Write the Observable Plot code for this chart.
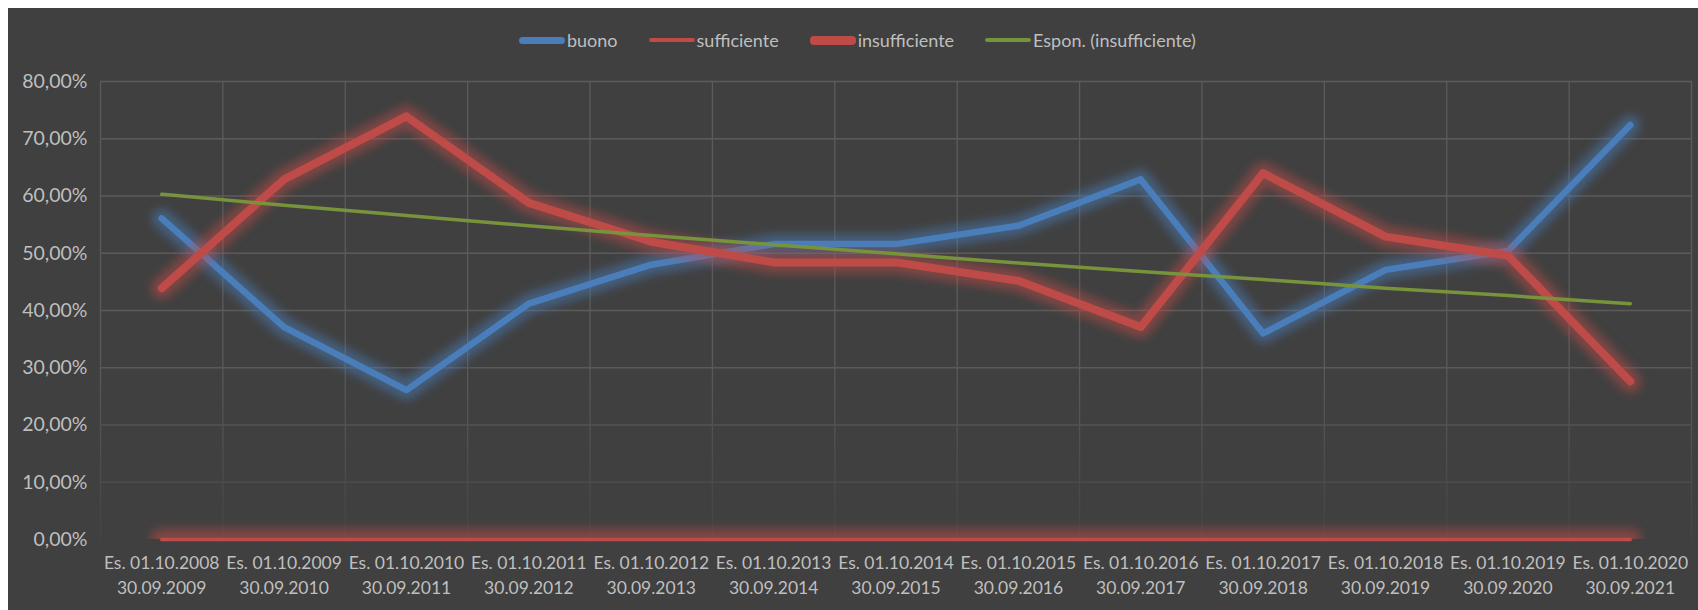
<!DOCTYPE html>
<html>
<head>
<meta charset="utf-8">
<script src="https://cdn.jsdelivr.net/npm/d3@7"></script>
<script src="https://cdn.jsdelivr.net/npm/@observablehq/plot@0.6"></script>
<style>
  html, body { margin: 0; padding: 0; background: #ffffff; }
  #chart { position: absolute; left: 8px; top: 8px; width: 1690px; height: 602px; background: #404040; overflow: hidden; font-family: Lato, sans-serif; }
  #legend { height: 56px; box-sizing: border-box; padding-top: 8px; padding-left: 511px; display: flex; align-items: center; color: #bfbfbf; font-size: 18px; line-height: 20px; }
  .item { display: flex; align-items: center; margin-right: 31px; }
  .sw { width: 46px; border-radius: 4px; margin-right: 2px; }
</style>
</head>
<body>
<div id="chart">
  <div id="legend"></div>
  <div id="plot"></div>
</div>
<script>
const periods = [
  "Es. 01.10.2008\n30.09.2009", "Es. 01.10.2009\n30.09.2010", "Es. 01.10.2010\n30.09.2011",
  "Es. 01.10.2011\n30.09.2012", "Es. 01.10.2012\n30.09.2013", "Es. 01.10.2013\n30.09.2014",
  "Es. 01.10.2014\n30.09.2015", "Es. 01.10.2015\n30.09.2016", "Es. 01.10.2016\n30.09.2017",
  "Es. 01.10.2017\n30.09.2018", "Es. 01.10.2018\n30.09.2019", "Es. 01.10.2019\n30.09.2020",
  "Es. 01.10.2020\n30.09.2021"
];
const buono         = [56.1, 37.1, 26.1, 41.2, 48.0, 51.6, 51.6, 54.8, 62.9, 36.0, 47.1, 50.4, 72.4];
const sufficiente   = [0, 0, 0, 0, 0, 0, 0, 0, 0, 0, 0, 0, 0];
const insufficiente = [43.9, 62.9, 73.9, 58.8, 52.0, 48.4, 48.4, 45.2, 37.1, 64.0, 52.9, 49.6, 27.6];
const trend         = [60.3, 58.4, 56.6, 54.8, 53.1, 51.5, 49.9, 48.3, 46.8, 45.4, 43.9, 42.6, 41.2];
const yTicks = [0, 10, 20, 30, 40, 50, 60, 70, 80];

const seriesNames = ["buono", "sufficiente", "insufficiente", "Espon. (insufficiente)"];
const colors = { blue: "#4a7ebb", red: "#be4b48", green: "#77933c" };

const rows = periods.map((p, i) => ({
  i, period: p, buono: buono[i], sufficiente: sufficiente[i],
  insufficiente: insufficiente[i], trend: trend[i]
}));
const boundaries = d3.range(periods.length + 1).map(i => i - 0.5);
const fmt = d => d.toFixed(2).replace(".", ",") + "%";

// legend
const legendSpec = [
  { name: seriesNames[0], color: colors.blue, h: 7 },
  { name: seriesNames[1], color: colors.red, h: 4 },
  { name: seriesNames[2], color: colors.red, h: 9 },
  { name: seriesNames[3], color: colors.green, h: 4 }
];
const legend = d3.select("#legend");
legendSpec.forEach(s => {
  const it = legend.append("div").attr("class", "item");
  it.append("div").attr("class", "sw").style("height", s.h + "px").style("background", s.color);
  it.append("span").text(s.name);
});

const glow = (key, color, w, extra = {}) =>
  Plot.line(rows, { x: "i", y: key, stroke: color, strokeWidth: w, strokeOpacity: 0.5,
    strokeLinejoin: "round", strokeLinecap: "round", ariaDescription: "glow", ...extra });

const plot = Plot.plot({
  width: 1690,
  height: 546,
  marginLeft: 92,
  marginRight: 7,
  marginTop: 17,
  marginBottom: 71,
  style: { background: "transparent", color: "#bfbfbf", fontFamily: "Lato, sans-serif", fontSize: "17px" },
  x: { type: "linear", domain: [-0.5, periods.length - 0.5], label: null },
  y: { domain: [0, 80], label: null },
  marks: [
    Plot.ruleY(yTicks.filter(d => d > 0), { stroke: "url(#gridfade)", strokeWidth: 1.3 }),
    Plot.ruleX(boundaries, { stroke: "url(#gridfade)", strokeWidth: 1.3 }),
    Plot.axisY(yTicks, { tickFormat: fmt, tickSize: 0, tickPadding: 13, fontSize: 19.5, label: null }),
    Plot.axisX(d3.range(periods.length), { tickFormat: i => periods[i], tickSize: 0, tickPadding: 12, fontSize: 17.5, lineHeight: 1.43, label: null }),
    // buono
    glow("buono", colors.blue, 20),
    Plot.line(rows, { x: "i", y: "buono", stroke: colors.blue, strokeWidth: 6.5, strokeLinecap: "round", strokeLinejoin: "round" }),
    // sufficiente
    glow("sufficiente", colors.red, 22, { clip: true }),
    Plot.line(rows, { x: "i", y: "sufficiente", stroke: colors.red, strokeWidth: 3.5, strokeLinecap: "round" }),
    // insufficiente
    glow("insufficiente", colors.red, 22),
    Plot.line(rows, { x: "i", y: "insufficiente", stroke: colors.red, strokeWidth: 8, strokeLinecap: "round", strokeLinejoin: "round" }),
    // exponential trend
    Plot.line(rows, { x: "i", y: "trend", stroke: colors.green, strokeWidth: 3.5, strokeLinecap: "round", curve: "monotone-x" })
  ]
});

// fading gridlines towards the bottom of the plot area
const [yBottom, yTop] = plot.scale("y").range;
const svg = d3.select(plot).filter(function () { return this.tagName.toLowerCase() === "svg"; });
const root = svg.empty() ? d3.select(plot).select("svg") : svg;
const grad = root.insert("defs", ":first-child").append("linearGradient")
  .attr("id", "gridfade").attr("gradientUnits", "userSpaceOnUse")
  .attr("x1", 0).attr("x2", 0).attr("y1", yTop).attr("y2", yBottom);
grad.append("stop").attr("offset", 0).attr("stop-color", "#5b5b5b");
grad.append("stop").attr("offset", 0.6).attr("stop-color", "#5b5b5b");
grad.append("stop").attr("offset", 0.88).attr("stop-color", "#4b4b4b");
grad.append("stop").attr("offset", 1).attr("stop-color", "#444444");

d3.select(plot).selectAll('g[aria-description="glow"]').style("filter", "blur(5px)");
document.getElementById("plot").appendChild(plot);
</script>
</body>
</html>
